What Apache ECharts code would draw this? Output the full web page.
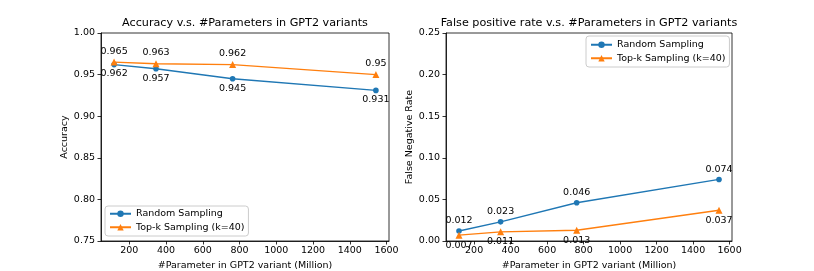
<!DOCTYPE html>
<html>
<head>
<meta charset="utf-8">
<script src="https://cdn.jsdelivr.net/npm/echarts@6/dist/echarts.min.js"></script>
<style>html,body{margin:0;padding:0;background:#fff}#c{width:814px;height:271px}</style>
</head>
<body>
<div id="c"></div>
<script>
// ---- data ----
const params = [117, 345, 762, 1542];
const accRandom = [0.962, 0.957, 0.945, 0.931];
const accTopk = [0.965, 0.963, 0.962, 0.95];
const fnrRandom = [0.012, 0.023, 0.046, 0.074];
const fnrTopk = [0.007, 0.011, 0.013, 0.037];
const xTicks = [200, 400, 600, 800, 1000, 1200, 1400, 1600];
const seriesNames = ['Random Sampling', 'Top-k Sampling (k=40)'];
const titles = ['Accuracy v.s. #Parameters in GPT2 variants', 'False positive rate v.s. #Parameters in GPT2 variants'];
const yNames = ['Accuracy', 'False Negative Rate'];
const xName = '#Parameter in GPT2 variant (Million)';

const FONT = 'DejaVu Sans';
const FS = 9.5, TFS = 11.2;
const BLUE = '#1f77b4', ORANGE = '#ff7f0e';
const pad = (Math.max(...params) - Math.min(...params)) * 0.05;
const xMin = Math.min(...params) - pad, xMax = Math.max(...params) + pad;

function pairs(xs, ys) { return xs.map((x, i) => [x, ys[i]]); }

function xAxis(gi) {
  return {
    type: 'value', gridIndex: gi, min: xMin, max: xMax,
    name: xName, nameLocation: 'middle', nameGap: 19,
    nameTextStyle: { fontFamily: FONT, fontSize: FS, color: '#000' },
    axisLine: { show: true, lineStyle: { color: '#000', width: 0.8 } },
    axisTick: { show: true, length: 3.5, lineStyle: { color: '#000', width: 0.8 }, customValues: xTicks },
    axisLabel: { customValues: xTicks, margin: 5, fontFamily: FONT, fontSize: FS, color: '#000', formatter: v => String(v) },
    splitLine: { show: false }
  };
}
function yAxis(gi, min, max, gap) {
  return {
    type: 'value', gridIndex: gi, min: min, max: max, interval: 0.05,
    name: yNames[gi], nameLocation: 'middle', nameGap: gap,
    nameTextStyle: { fontFamily: FONT, fontSize: FS, color: '#000' },
    axisLine: { show: true, lineStyle: { color: '#000', width: 0.8 } },
    axisTick: { show: true, length: 3.5, lineStyle: { color: '#000', width: 0.8 } },
    axisLabel: { margin: 6, fontFamily: FONT, fontSize: FS, color: '#000', formatter: v => v.toFixed(2) },
    splitLine: { show: false }
  };
}
function series(name, gi, xs, ys, color, symbol, labelPos, size) {
  return {
    name: name, type: 'line', xAxisIndex: gi, yAxisIndex: gi,
    data: pairs(xs, ys), symbol: symbol, symbolSize: size, showAllSymbol: true,
    lineStyle: { color: color, width: 1.4 }, itemStyle: { color: color },
    label: { show: true, position: labelPos, distance: labelPos === 'top' ? 2.5 : 1.5,
      fontFamily: FONT, fontSize: FS, color: '#000', formatter: p => String(p.value[1]) },
    emphasis: { disabled: true }, animation: false, z: 3
  };
}
const legendBase = {
  orient: 'vertical', itemWidth: 21, itemHeight: 8, itemGap: 0,
  padding: [1, 4, 2, 4], borderColor: '#cccccc', borderWidth: 1, borderRadius: 3,
  backgroundColor: 'rgba(255,255,255,0.8)',
  textStyle: { fontFamily: FONT, fontSize: FS, color: '#000', lineHeight: 13.5 },
  selectedMode: false, data: seriesNames
};
const gridBase = { top: 33, bottom: 271 - 241, show: true, borderColor: '#000', borderWidth: 0.8,
  containLabel: false, outerBoundsMode: 'none' };

const chart = echarts.init(document.getElementById('c'), null, { renderer: 'canvas' });
chart.setOption({
  animation: false,
  backgroundColor: '#fff',
  title: [
    { text: titles[0], left: 245, top: 18, textAlign: 'center', padding: 0,
      textStyle: { fontFamily: FONT, fontSize: TFS, fontWeight: 'normal', color: '#000' } },
    { text: titles[1], left: 589, top: 18, textAlign: 'center', padding: 0,
      textStyle: { fontFamily: FONT, fontSize: TFS, fontWeight: 'normal', color: '#000' } }
  ],
  legend: [
    Object.assign({}, legendBase, { left: 105, top: 206 }),
    Object.assign({}, legendBase, { left: 586, top: 36, padding: [2, 4, 2, 4] })
  ],
  grid: [
    Object.assign({}, gridBase, { left: 101, right: 814 - 389 }),
    Object.assign({}, gridBase, { left: 446, right: 814 - 732 })
  ],
  xAxis: [xAxis(0), xAxis(1)],
  yAxis: [yAxis(0, 0.75, 1.0, 27), yAxis(1, 0, 0.25, 31)],
  series: [
    series(seriesNames[0], 0, params, accRandom, BLUE, 'circle', 'bottom', 5.6),
    series(seriesNames[1], 0, params, accTopk, ORANGE, 'triangle', 'top', 7),
    series(seriesNames[0], 1, params, fnrRandom, BLUE, 'circle', 'top', 5.6),
    series(seriesNames[1], 1, params, fnrTopk, ORANGE, 'triangle', 'bottom', 7)
  ]
});
</script>
</body>
</html>
